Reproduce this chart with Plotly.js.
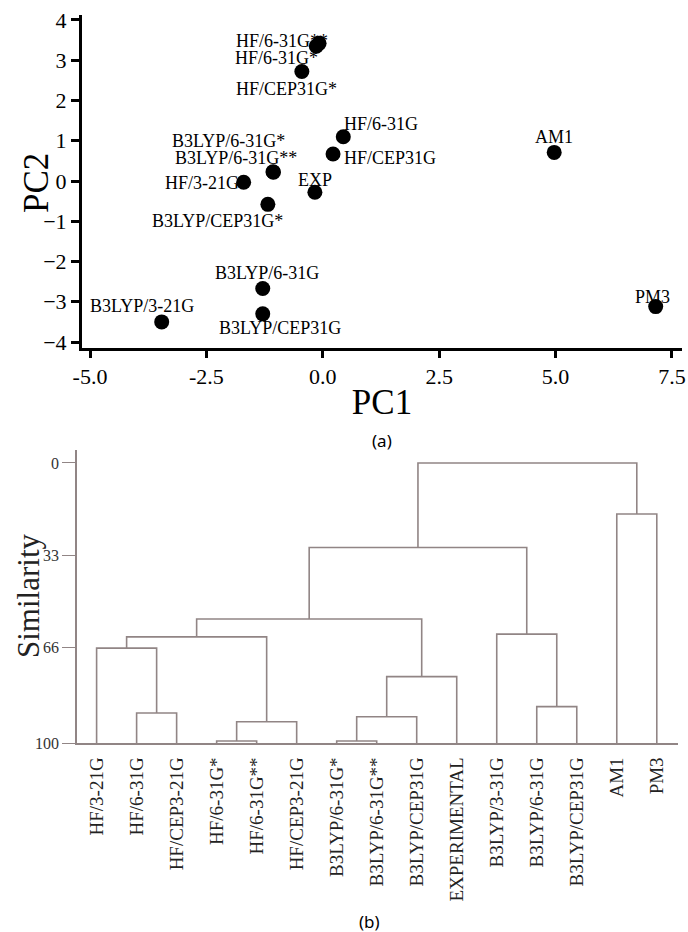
<!DOCTYPE html>
<html><head><meta charset="utf-8">
<script src="https://cdn.plot.ly/plotly-3.0.1.min.js"></script>
<style>html,body{margin:0;padding:0;background:#fff}</style>
</head><body><div id="chart" style="width:688px;height:932px"></div>
<script>
// ---- (a) PCA score plot data ----
const pcaNames = ['HF/6-31G**','HF/6-31G*','HF/CEP31G*','HF/6-31G','HF/CEP31G','AM1',
  'B3LYP/6-31G*','B3LYP/6-31G**','HF/3-21G','EXP','B3LYP/CEP31G*','B3LYP/6-31G',
  'B3LYP/CEP31G','B3LYP/3-21G','PM3'];
const pc1 = [-0.08,-0.14,-0.45,0.44,0.22,4.97,-1.07,-1.06,-1.70,-0.17,-1.18,-1.29,-1.29,-3.46,7.15];
const pc2 = [3.42,3.35,2.72,1.10,0.67,0.71,0.23,0.22,-0.03,-0.28,-0.58,-2.67,-3.30,-3.50,-3.12];
const pc1TickVals = [-5,-2.5,0,2.5,5,7.5];
const pc1TickText = ['-5.0','-2.5','0.0','2.5','5.0','7.5'];
const pc2TickVals = [-4,-3,-2,-1,0,1,2,3,4];

// ---- (b) dendrogram data ----
const leafLabels = ['HF/3-21G','HF/6-31G','HF/CEP3-21G','HF/6-31G*','HF/6-31G**','HF/CEP3-21G',
  'B3LYP/6-31G*','B3LYP/6-31G**','B3LYP/CEP31G','EXPERIMENTAL','B3LYP/3-31G','B3LYP/6-31G',
  'B3LYP/CEP31G','AM1','PM3'];
// merges: node ids 0..14 are leaves, merge k creates node 15+k
const mergeLeft   = [3, 6, 1, 15, 16, 11, 0, 19, 21, 10, 23, 25, 13, 26];
const mergeRight  = [4, 7, 2, 5, 8, 12, 17, 9, 18, 20, 22, 24, 14, 27];
const mergeHeight = [99.3, 99.3, 89.3, 92.4, 90.6, 87.0, 66.1, 76.3, 62.1, 61.1, 55.7, 30.2, 18.2, 0];
const simTickVals = [0, 33, 66, 100];

// label offsets for scatter annotations (styling, pixels)
const labelDx = [-37,-40,-15,38,57,0,-44,-37,-42,0,-50,4,17,-20,-3];
const labelDy = [-2,12,17,-13,4,-15,-31,-14,1,-12,17,-15,14,-16,-10];

// build dendrogram segments
const nodeX = leafLabels.map((_, i) => i);
const nodeH = leafLabels.map(() => 100);
const segX = [], segY = [];
mergeLeft.forEach((l, k) => {
  const r = mergeRight[k], h = mergeHeight[k];
  segX.push(nodeX[l], nodeX[l], nodeX[r], nodeX[r], null);
  segY.push(nodeH[l], h, h, nodeH[r], null);
  nodeX.push((nodeX[l] + nodeX[r]) / 2);
  nodeH.push(h);
});

const serif = 'Liberation Serif, Times New Roman, serif';
const grey = 'rgb(145,133,133)';

const traces = [
  {type:'scatter', mode:'markers', x:pc1, y:pc2, xaxis:'x', yaxis:'y',
   marker:{size:15, color:'#000'}, hoverinfo:'text', text:pcaNames, showlegend:false},
  {type:'scatter', mode:'lines', x:segX, y:segY, xaxis:'x2', yaxis:'y2',
   line:{color:grey, width:1.6}, hoverinfo:'skip', showlegend:false, connectgaps:false}
];

const annotations = pcaNames.map((t, i) => ({
  x: pc1[i], y: pc2[i], xref:'x', yref:'y', text:t, showarrow:false,
  xanchor:'center', yanchor:'middle', xshift:labelDx[i], yshift:-labelDy[i],
  font:{family:serif, size:18, color:'#000'}
}));
// axis titles drawn as rotated annotations for exact placement
annotations.push({text:'PC2', xref:'paper', yref:'paper', x:36/688, y:1-183/932, textangle:-90,
  showarrow:false, xanchor:'center', yanchor:'middle', font:{family:serif, size:35, color:'#000'}});
annotations.push({text:'Similarity', xref:'paper', yref:'paper', x:28/688, y:1-596/932, textangle:-90,
  showarrow:false, xanchor:'center', yanchor:'middle', font:{family:serif, size:31, color:'#222'}});
annotations.push({text:'(a)', xref:'paper', yref:'paper', x:382/688, y:1-440/932,
  showarrow:false, xanchor:'center', yanchor:'middle', font:{family:'Noto Sans, sans-serif', size:17, color:'#000'}});
annotations.push({text:'(b)', xref:'paper', yref:'paper', x:370/688, y:1-921/932,
  showarrow:false, xanchor:'center', yanchor:'middle', font:{family:'Noto Sans, sans-serif', size:17, color:'#000'}});

const layout = {
  width:688, height:932, margin:{l:0,r:0,t:0,b:0},
  paper_bgcolor:'#fff', plot_bgcolor:'#fff', showlegend:false,
  xaxis:{domain:[82/688, 682/688], anchor:'y', range:[-5.172, 7.715],
    tickvals:pc1TickVals, ticktext:pc1TickText, showgrid:false, zeroline:false,
    showline:true, linecolor:'#000', linewidth:3, ticks:'outside', ticklen:7, tickwidth:3, tickcolor:'#000',
    tickfont:{family:serif, size:22, color:'#000'},
    title:{text:'PC1', font:{family:serif, size:35, color:'#000'}, standoff:2}},
  yaxis:{domain:[1-348/932, 1-15/932], anchor:'x', range:[-4.149, 4.124],
    tickvals:pc2TickVals, showgrid:false, zeroline:false,
    showline:true, linecolor:'#000', linewidth:3, ticks:'outside', ticklen:8, tickwidth:3, tickcolor:'#000',
    tickfont:{family:serif, size:22, color:'#000'}},
  xaxis2:{domain:[77/688, 678/688], anchor:'y2', range:[-0.49, 14.53],
    tickvals:leafLabels.map((_, i) => i), ticktext:leafLabels, tickangle:-90,
    showgrid:false, zeroline:false, showline:true, linecolor:grey, linewidth:1.6,
    ticks:'', ticklabelstandoff:5,
    tickfont:{family:serif, size:19, color:'#222'}},
  yaxis2:{domain:[1-743/932, 1-450/932], anchor:'x2', range:[100, -4.64],
    tickvals:simTickVals, showgrid:false, zeroline:false,
    showline:true, linecolor:grey, linewidth:1.6, ticks:'outside', ticklen:13, tickwidth:1.4, tickcolor:grey,
    tickfont:{family:serif, size:16, color:'#333'}},
  annotations: annotations
};

Plotly.newPlot('chart', traces, layout, {displayModeBar:false, responsive:false});
</script></body></html>
